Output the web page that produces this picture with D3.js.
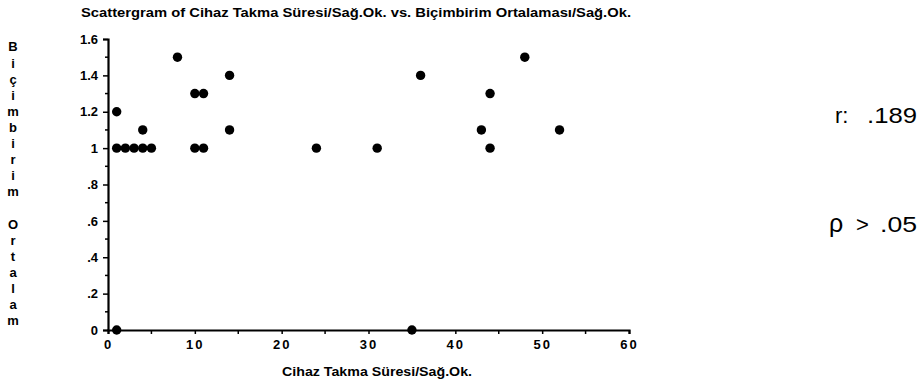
<!DOCTYPE html>
<html>
<head>
<meta charset="UTF-8">
<title>Scattergram</title>
<script src="https://d3js.org/d3.v7.min.js"></script>
<style>
	body { margin: 0; background: #fff; }
	svg { display: block; font-family: "Liberation Sans", Arial, Helvetica, sans-serif; }
</style>
</head>
<body>
	<svg id="chart"></svg>
	<script type="text/javascript">
		// Cihaz Takma Süresi (x) vs Biçimbirim Ortalaması (y)
		var durations = [1, 1, 2, 3, 4, 5, 4, 8, 10, 11, 10, 11, 14, 14, 24, 31, 36, 43, 44, 44, 48, 52, 1, 35];
		var means = [1.2, 1, 1, 1, 1, 1, 1.1, 1.5, 1.3, 1.3, 1, 1, 1.4, 1.1, 1, 1, 1.4, 1.1, 1.3, 1, 1.5, 1.1, 0, 0];

		var xTicks = [0, 10, 20, 30, 40, 50, 60];
		var xTickLabels = ["0", "10", "20", "30", "40", "50", "60"];
		var yTicks = [0, 0.2, 0.4, 0.6, 0.8, 1, 1.2, 1.4, 1.6];
		var yTickLabels = ["0", ".2", ".4", ".6", ".8", "1", "1.2", "1.4", "1.6"];

		var title = "Scattergram of Cihaz Takma Süresi/Sağ.Ok. vs. Biçimbirim Ortalaması/Sağ.Ok.";
		var xTitle = "Cihaz Takma Süresi/Sağ.Ok.";
		var yTitle = "Biçimbirim Ortalam";

		var width = 921, height = 380;

		var svg = d3.select("#chart")
			.attr("width", width)
			.attr("height", height);

		var x = d3.scaleLinear().domain([0, 60]).range([108, 629]);
		var y = d3.scaleLinear().domain([0, 1.6]).range([330, 39]);

		// titulo
		svg.append("text")
			.attr("x", 81).attr("y", 17)
			.attr("textLength", 550).attr("lengthAdjust", "spacingAndGlyphs")
			.style("font-size", "12px").style("font-weight", "bold")
			.text(title);

		// minor ticks
		var minorY = d3.range(0.1, 1.6, 0.2);
		svg.append("g").selectAll("line").data(minorY).enter().append("line")
			.attr("x1", x(0) - 3).attr("x2", x(0))
			.attr("y1", function(d) { return y(d); })
			.attr("y2", function(d) { return y(d); })
			.attr("stroke", "#000").attr("stroke-width", 1.5);

		var minorX = [5, 15, 25, 35, 45, 55];
		svg.append("g").selectAll("line").data(minorX).enter().append("line")
			.attr("x1", function(d) { return x(d); })
			.attr("x2", function(d) { return x(d); })
			.attr("y1", y(0)).attr("y2", y(0) + 4)
			.attr("stroke", "#000").attr("stroke-width", 1.5);

		var yAxis = d3.axisLeft(y)
			.tickValues(yTicks)
			.tickSize(5)
			.tickPadding(5)
			.tickFormat(function(d, i) { return yTickLabels[i]; });

		var xAxis = d3.axisBottom(x)
			.tickValues(xTicks)
			.tickSize(4)
			.tickPadding(6)
			.tickFormat(function(d, i) { return xTickLabels[i]; });

		var gy = svg.append("g").attr("transform", "translate(" + x(0) + ",0)").call(yAxis);
		var gx = svg.append("g").attr("transform", "translate(0," + y(0) + ")").call(xAxis);

		[gx, gy].forEach(function(g) {
			g.select(".domain").attr("stroke-width", 2.2);
			g.selectAll(".tick line").attr("stroke-width", 1.5);
			g.selectAll("text")
				.attr("fill", "#000")
				.style("font-size", "13px")
				.style("font-weight", "bold")
				.style("font-family", "\"Liberation Sans\", Arial, sans-serif");
		});
		gx.selectAll("text").style("letter-spacing", "2px");

		// puntos
		svg.append("g").selectAll("circle")
			.data(durations.map(function(d, i) { return [d, means[i]]; }))
			.enter().append("circle")
			.attr("cx", function(d) { return x(d[0]); })
			.attr("cy", function(d) { return y(d[1]); })
			.attr("r", 4.7)
			.attr("fill", "#000");

		// eksen basliklari
		svg.append("text")
			.attr("x", 377).attr("y", 376)
			.attr("text-anchor", "middle")
			.attr("textLength", 190).attr("lengthAdjust", "spacingAndGlyphs")
			.style("font-size", "12px").style("font-weight", "bold")
			.text(xTitle);

		svg.append("g").selectAll("text")
			.data(yTitle.split(""))
			.enter().append("text")
			.attr("x", 13)
			.attr("y", function(d, i) { return 48 + i * 16.1; })
			.attr("text-anchor", "middle")
			.attr("dominant-baseline", "middle")
			.style("font-size", "13px").style("font-weight", "bold")
			.text(function(d) { return d; });

		// istatistik
		var stats = svg.append("g").style("font-size", "22px");
		stats.append("text").attr("x", 835).attr("y", 123).text("r:");
		stats.append("text").attr("x", 867).attr("y", 123)
			.attr("textLength", 50).attr("lengthAdjust", "spacingAndGlyphs").text(".189");
		stats.append("text").attr("x", 829).attr("y", 232)
			.style("font-size", "25px").text("ρ");
		stats.append("text").attr("x", 856).attr("y", 232).text(">");
		stats.append("text").attr("x", 880).attr("y", 232)
			.attr("textLength", 37).attr("lengthAdjust", "spacingAndGlyphs").text(".05");
	</script>
</body>
</html>
